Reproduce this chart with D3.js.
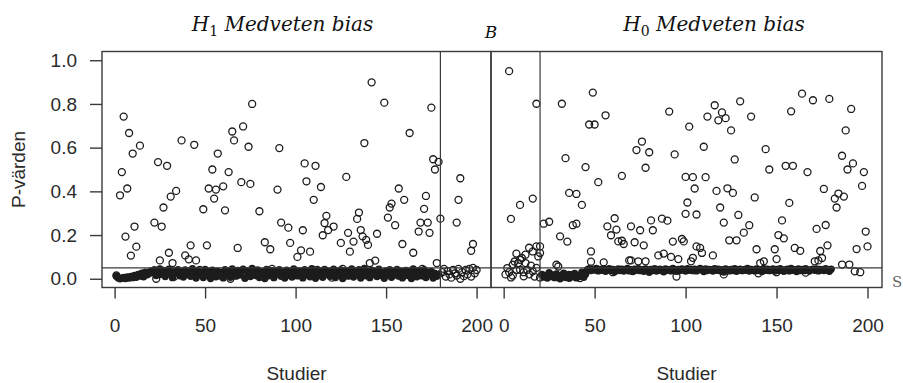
<!DOCTYPE html>
<html>
<head>
<meta charset="utf-8">
<script src="https://cdn.jsdelivr.net/npm/d3@7"></script>
<style>
  html, body { margin: 0; padding: 0; background: #fff; }
  svg { display: block; }
</style>
</head>
<body>
<svg id="chart" width="903" height="383"></svg>
<script>
// ---------------- data ----------------
const xTicks = [0, 50, 100, 150, 200];
const yTicks = [0, 0.2, 0.4, 0.6, 0.8, 1.0];
const alphaLevel = 0.05;
const leftCutoff = 180;
const rightCutoff = 20;
const xLabel = "Studier";
const yLabel = "P-värden";
const titleLeft = ["H", "1", " Medveten bias"];
const titleMid = "B";
const titleRight = ["H", "0", " Medveten bias"];
const edgeNote = "S";

// open circles, left panel: [study, p]
const leftOpen = [
  [3,0.382],[4,0.488],[5,0.742],[6,0.193],[7,0.413],[8,0.667],[9,0.106],[10,0.573],[11,0.239],[12,0.147],[14,0.609],
  [22,0.257],[24,0.534],[25,0.084],[26,0.239],[27,0.326],[29,0.517],[30,0.119],[31,0.376],[32,0.072],[34,0.402],
  [37,0.633],[39,0.107],[41,0.089],[42,0.153],[44,0.613],[45,0.084],
  [49,0.318],[51,0.153],[52,0.413],[54,0.5],[55,0.367],[56,0.408],[57,0.573],[60,0.423],[61,0.313],[63,0.488],
  [65,0.674],[66,0.633],[68,0.141],[70,0.442],[71,0.697],[74,0.604],[75,0.434],[76,0.8],[80,0.309],[83,0.167],
  [86,0.135],[90,0.408],[91,0.598],[92,0.257],[96,0.234],[97,0.164],
  [101,0.1],[103,0.13],[104,0.222],[105,0.528],[106,0.446],[108,0.124],[110,0.361],[111,0.517],[114,0.42],[115,0.199],
  [116,0.255],[117,0.288],[118,0.223],[121,0.239],[125,0.164],[128,0.466],[129,0.21],[130,0.124],[132,0.17],[134,0.274],
  [135,0.303],[136,0.223],[137,0.194],[138,0.621],[139,0.178],[140,0.155],[141,0.072],[142,0.899],[144,0.083],[145,0.206],
  [149,0.806],[151,0.28],[152,0.326],[153,0.344],[155,0.245],[157,0.413],[159,0.159],[160,0.361],[163,0.667],[165,0.119],
  [168,0.216],[169,0.257],[171,0.32],[172,0.379],[173,0.257],[174,0.21],[175,0.783],[176,0.547],[177,0.5],[178,0.072],
  [179,0.535],[180,0.275],[189,0.257],[190,0.361],[191,0.46],[197,0.128],[198,0.159],
  [1,0.015],[15,0.02],[23,0.0],[33,0.01],[47,0.04],[53,0.022],[64,0.0],[69,0.03],[87,0.045],[99,0.035],
  [112,0.04],[120,0.005],[126,0.045],[146,0.02],[161,0.035],[170,0.045],
  [181,0.03],[182,0.045],[183,0.01],[184,0.035],[185,0.02],[186,0.005],[187,0.04],[188,0.025],[189,0.015],[190,0.045],
  [191,0.0],[192,0.03],[193,0.012],[194,0.04],[195,0.02],[196,0.045],[197,0.01],[198,0.05],[199,0.025],[200,0.04]
];

// filled points, left panel: p for studies 1, 2, 3, ...
const leftFilledStart = 1;
const leftFilled = [
  0.012,0.004,0.0,0.002,0.006,0.001,0.008,0.003,0.01,0.005,0.015,0.007,0.02,0.012,0.025,0.009,0.03,0.018,0.024,0.035,
  0.028,0.041,0.015,0.033,0.045,0.02,0.038,0.01,0.03,0.044,0.022,0.005,0.036,0.027,0.042,0.014,0.031,0.008,0.04,0.019,
  0.034,0.011,0.046,0.025,0.003,0.037,0.018,0.029,0.006,0.043,0.016,0.032,0.001,0.039,0.024,0.009,0.035,0.013,0.028,0.004,
  0.041,0.02,0.033,0.007,0.045,0.026,0.012,0.038,0.017,0.03,0.044,0.002,0.036,0.021,0.01,0.047,0.029,0.015,0.04,0.006,
  0.032,0.023,0.001,0.043,0.014,0.027,0.037,0.005,0.019,0.034,0.042,0.011,0.025,0.003,0.039,0.016,0.03,0.008,0.045,0.022,
  0.013,0.036,0.028,0.004,0.041,0.018,0.033,0.009,0.046,0.024,0.002,0.038,0.015,0.031,0.007,0.043,0.02,0.035,0.011,0.027,
  0.044,0.006,0.032,0.017,0.04,0.001,0.029,0.037,0.012,0.023,0.045,0.008,0.034,0.019,0.042,0.003,0.026,0.047,0.014,0.031,
  0.005,0.039,0.021,0.033,0.01,0.044,0.016,0.028,0.002,0.036,0.024,0.041,0.007,0.03,0.018,0.043,0.012,0.035,0.004,0.026,
  0.038,0.015,0.032,0.001,0.045,0.022,0.009,0.037,0.028,0.013,0.041,0.006,0.03,0.019,0.034,0.003,0.024,0.011,0.02
];

// open circles, right panel: [study, p]
const rightOpen = [
  [3,0.95],[18,0.801],[4,0.274],[9,0.338],[16,0.367],[7,0.115],[12,0.11],[14,0.142],[18,0.148],[20,0.148],
  [6,0.079],[9,0.087],[16,0.125],[20,0.118],
  [1,0.02],[2,0.049],[3,0.03],[4,0.006],[5,0.064],[7,0.04],[8,0.072],[9,0.041],[10,0.095],[11,0.011],[12,0.072],
  [13,0.041],[14,0.02],[15,0.06],[16,0.034],[17,0.01],[18,0.05],[19,0.102],[20,0.006],[11,0.03],[5,0.015],
  [22,0.252],[25,0.261],[29,0.064],[30,0.056],[31,0.194],[32,0.801],[34,0.552],[35,0.17],[36,0.393],[38,0.245],
  [40,0.252],[40,0.388],[43,0.338],[45,0.511],[47,0.706],[48,0.125],[48,0.078],[49,0.852],[50,0.706],[52,0.442],
  [55,0.075],[56,0.748],[57,0.24],[59,0.199],[61,0.277],[62,0.225],[63,0.171],[65,0.471],[65,0.174],[66,0.159],
  [69,0.084],[70,0.084],[70,0.24],[72,0.167],[73,0.589],[74,0.08],[75,0.222],[76,0.628],[77,0.153],[78,0.508],
  [78,0.08],[80,0.579],[81,0.267],[82,0.222],[85,0.107],[87,0.275],[88,0.115],[90,0.266],[91,0.765],[92,0.1],
  [93,0.17],[94,0.569],[96,0.09],[98,0.182],[99,0.171],[100,0.466],[100,0.297],
  [101,0.349],[102,0.696],[103,0.08],[104,0.465],[104,0.096],[105,0.413],[106,0.294],[106,0.148],[108,0.141],[109,0.118],
  [110,0.604],[111,0.465],[112,0.742],[115,0.107],[116,0.794],[117,0.402],[118,0.725],[119,0.326],[120,0.761],[121,0.257],
  [122,0.735],[123,0.414],[124,0.176],[125,0.679],[126,0.393],[127,0.546],[128,0.176],[129,0.292],[130,0.812],[132,0.211],
  [135,0.245],[136,0.742],[138,0.372],[139,0.135],[141,0.072],[143,0.08],[144,0.593],[146,0.5],[149,0.135],[150,0.09],
  [151,0.2],[153,0.267],[154,0.185],[155,0.517],[157,0.347],[158,0.766],[159,0.517],[160,0.141],[163,0.128],[164,0.847],
  [167,0.488],[170,0.817],[171,0.08],[172,0.228],[173,0.084],[174,0.127],[175,0.095],[176,0.411],[177,0.246],[178,0.153],
  [179,0.823],[182,0.367],[183,0.326],[184,0.39],[186,0.563],[186,0.065],[187,0.376],[188,0.679],[189,0.5],[190,0.065],
  [191,0.777],[192,0.528],[193,0.034],[194,0.136],[196,0.03],[197,0.425],[198,0.488],[199,0.216],[200,0.148],
  [36,0.018],[42,0.003],[60,0.03],[95,0.01],[121,0.02],[140,0.025],[150,0.03],[166,0.028]
];

// filled points, right panel: p for studies 21, 22, ... 180
const rightFilledStart = 21;
const rightFilled = [
  0.02,0.008,0.015,0.003,0.028,0.01,0.018,0.005,0.022,0.012,0.0,0.016,0.025,0.006,0.013,0.002,0.019,0.009,0.024,0.004,
  0.014,0.011,0.03,0.007,0.021,
  0.042,0.046,0.038,0.044,0.04,0.047,0.036,0.043,0.039,0.045,
  0.034,0.041,0.046,0.037,0.043,0.032,0.04,0.045,0.038,0.044,
  0.035,0.042,0.047,0.036,0.041,0.033,0.044,0.039,0.046,0.037,
  0.042,0.034,0.045,0.04,0.03,0.043,0.038,0.046,0.035,0.041,
  0.044,0.037,0.032,0.045,0.039,0.042,0.036,0.047,0.04,0.034,
  0.043,0.038,0.045,0.041,0.035,0.046,0.039,0.043,0.037,0.044,
  0.036,0.042,0.047,0.04,0.033,0.045,0.038,0.043,0.041,0.035,
  0.046,0.039,0.044,0.037,0.042,0.031,0.045,0.04,0.036,0.043,
  0.038,0.046,0.034,0.041,0.044,0.037,0.042,0.039,0.047,0.035,
  0.043,0.04,0.036,0.045,0.038,0.042,0.033,0.046,0.039,0.044,
  0.037,0.041,0.045,0.035,0.043,0.038,0.046,0.04,0.034,0.042,
  0.044,0.036,0.047,0.039,0.041,0.033,0.045,0.038,0.043,0.037,
  0.046,0.04,0.035,0.042,0.044,0.039,0.045,0.036,0.043,0.041,
  0.038,0.046,0.04,0.034,0.044
];

// ---------------- drawing ----------------
const svg = d3.select("#chart");
const ink = "#1c1c1c";
const frame = "#3a3a3a";
const sans = "'Liberation Sans', Arial, Helvetica, sans-serif";
const serif = "'DejaVu Serif', 'Liberation Serif', serif";

const plotTop = 51.5, plotBottom = 287.5;
const y = d3.scaleLinear().domain([-0.04, 1.04]).range([plotBottom, plotTop]);
const xLeft = d3.scaleLinear().domain([-6.96, 207.96]).range([102, 491]);
const xRight = d3.scaleLinear().domain([-6.96, 207.96]).range([491, 882]);

function drawPanel(x, openPts, filledStart, filledVals, cutoff) {
  const g = svg.append("g");
  const filledPts = filledVals.map((p, i) => [filledStart + i, p]);

  g.append("g").selectAll("circle").data(filledPts).join("circle")
    .attr("cx", d => x(d[0])).attr("cy", d => y(d[1]))
    .attr("r", 3.7).attr("fill", ink);

  g.append("g").selectAll("circle").data(openPts).join("circle")
    .attr("cx", d => x(d[0])).attr("cy", d => y(d[1]))
    .attr("r", 3.5).attr("fill", "none")
    .attr("stroke", ink).attr("stroke-width", 1.3);

  const [x0, x1] = x.range();
  // significance level
  g.append("line")
    .attr("x1", x0).attr("x2", x1).attr("y1", y(alphaLevel)).attr("y2", y(alphaLevel))
    .attr("stroke", frame).attr("stroke-width", 1.2);
  // cutoff marker
  g.append("line")
    .attr("x1", x(cutoff)).attr("x2", x(cutoff)).attr("y1", plotTop).attr("y2", plotBottom)
    .attr("stroke", frame).attr("stroke-width", 1.2);
  // frame
  g.append("rect")
    .attr("x", x0).attr("y", plotTop).attr("width", x1 - x0).attr("height", plotBottom - plotTop)
    .attr("fill", "none").attr("stroke", frame).attr("stroke-width", 1.4);

  // x axis
  const ax = g.append("g").attr("transform", `translate(0,${plotBottom})`)
    .call(d3.axisBottom(x).tickValues(xTicks).tickFormat(d3.format("d"))
      .tickSize(11).tickSizeOuter(0).tickPadding(20));
  ax.select(".domain").remove();
  ax.selectAll(".tick line").attr("stroke", frame).attr("stroke-width", 1.4);
  ax.selectAll("text").attr("font-family", sans).attr("font-size", 19).attr("fill", "#2a2a2a");

  // x label
  g.append("text")
    .attr("x", (x0 + x1) / 2).attr("y", 380)
    .attr("text-anchor", "middle")
    .attr("font-family", sans).attr("font-size", 19).attr("fill", "#2a2a2a")
    .text(xLabel);
}

drawPanel(xLeft, leftOpen, leftFilledStart, leftFilled, leftCutoff);
drawPanel(xRight, rightOpen, rightFilledStart, rightFilled, rightCutoff);

// y axis (left panel only)
const ay = svg.append("g").attr("transform", `translate(${xLeft.range()[0]},0)`)
  .call(d3.axisLeft(y).tickValues(yTicks).tickFormat(d3.format(".1f"))
    .tickSize(12).tickSizeOuter(0).tickPadding(13));
ay.select(".domain").remove();
ay.selectAll(".tick line").attr("stroke", frame).attr("stroke-width", 1.4);
ay.selectAll("text").attr("font-family", sans).attr("font-size", 19).attr("fill", "#2a2a2a");

svg.append("text")
  .attr("transform", `translate(25,${(plotTop + plotBottom) / 2}) rotate(-90)`)
  .attr("text-anchor", "middle")
  .attr("font-family", sans).attr("font-size", 19).attr("fill", "#2a2a2a")
  .text(yLabel);

// panel titles
function drawTitle(cx, parts) {
  const t = svg.append("text")
    .attr("x", cx).attr("y", 31)
    .attr("text-anchor", "middle")
    .attr("font-family", serif).attr("font-size", 20).attr("fill", "#111");
  t.append("tspan").attr("font-style", "italic").text(parts[0]);
  t.append("tspan").attr("font-size", 14).attr("dy", 5).text(parts[1]);
  t.append("tspan").attr("font-style", "italic").attr("dy", -5).text(parts[2]);
}
drawTitle(282.5, titleLeft);
drawTitle(714, titleRight);

svg.append("text")
  .attr("x", 491).attr("y", 38)
  .attr("text-anchor", "middle")
  .attr("font-family", serif).attr("font-style", "italic")
  .attr("font-size", 17).attr("fill", "#111")
  .text(titleMid);

svg.append("text")
  .attr("x", 892).attr("y", 287)
  .attr("font-family", serif).attr("font-size", 15).attr("fill", "#666")
  .text(edgeNote);
</script>
</body>
</html>
